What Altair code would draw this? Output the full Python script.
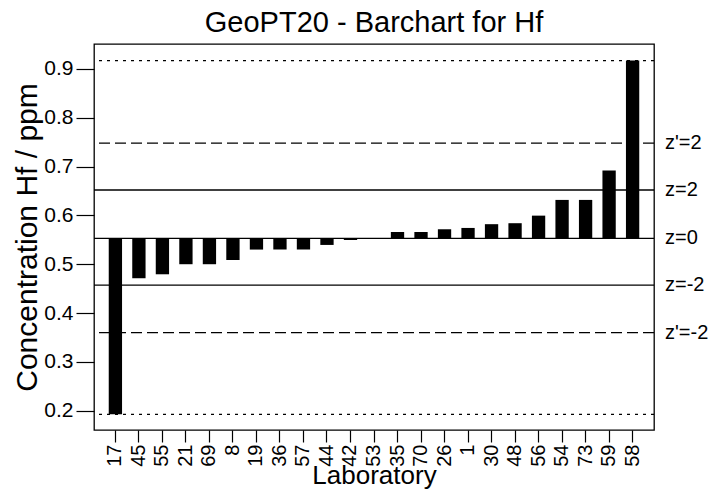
import altair as alt
import pandas as pd

labs = ["17", "45", "55", "21", "69", "8", "19", "36", "57", "44", "42", "53",
        "35", "70", "26", "1", "30", "48", "56", "54", "73", "59", "58"]
values = [0.1926, 0.4713, 0.4794, 0.500, 0.500, 0.5087, 0.530, 0.530, 0.530,
          0.5395, 0.5497, 0.553, 0.566, 0.566, 0.5716, 0.5743, 0.582, 0.584,
          0.5995, 0.6317, 0.6317, 0.6917, 0.917]
assigned = 0.553

solid_levels = [0.652, 0.553, 0.457]
solid_labels = ["z=2", "z=0", "z=-2"]
dashed_levels = [0.748, 0.360]
dashed_labels = ["z'=2", "z'=-2"]
dotted_levels = [0.917, 0.1926]

y_ticks = [0.2, 0.3, 0.4, 0.5, 0.6, 0.7, 0.8, 0.9]
y_domain = [0.1605, 0.951]

FONT = "Liberation Sans"

bars_df = pd.DataFrame({"Laboratory": labs, "value": values,
                        "base": [assigned] * len(labs)})
solid_df = pd.DataFrame({"level": solid_levels, "label": solid_labels})
dashed_df = pd.DataFrame({"level": dashed_levels, "label": dashed_labels})
dotted_df = pd.DataFrame({"level": dotted_levels})

yscale = alt.Scale(domain=y_domain, nice=False, zero=False)

bars = alt.Chart(bars_df).mark_bar(color="black").encode(
    x=alt.X("Laboratory:N", sort=labs,
            scale=alt.Scale(paddingInner=0.434, paddingOuter=0.627),
            axis=alt.Axis(title="Laboratory", labelAngle=-90, tickSize=12,
                          labelPadding=2, labelFontSize=20, titleFontSize=26,
                          titlePadding=-4, domain=False, tickColor="black",
                          tickWidth=1.2, labelColor="black", titleColor="black",
                          titleFontWeight="normal", labelFont=FONT,
                          titleFont=FONT)),
    y=alt.Y("value:Q", scale=yscale,
            axis=alt.Axis(title="Concentration Hf / ppm", values=y_ticks,
                          format=".1f", tickSize=18, labelPadding=3,
                          labelFontSize=21, titleFontSize=30, grid=False,
                          domain=False, tickColor="black", tickWidth=1.2,
                          labelColor="black", titleColor="black",
                          titleFontWeight="normal", titlePadding=1.5,
                          labelFont=FONT, titleFont=FONT)),
    y2="base:Q",
)

solid = alt.Chart(solid_df).mark_rule(color="black", strokeWidth=1.3).encode(
    y=alt.Y("level:Q", scale=yscale))
dashed = alt.Chart(dashed_df).mark_rule(color="black", strokeWidth=1.3,
                                        strokeDash=[11, 5]).encode(
    y=alt.Y("level:Q", scale=yscale))
dotted = alt.Chart(dotted_df).mark_rule(color="black", strokeWidth=1.3,
                                        strokeDash=[3, 5]).encode(
    y=alt.Y("level:Q", scale=yscale))

label_style = dict(align="left", baseline="middle", fontSize=20, font=FONT,
                   color="black", clip=False)
solid_text = alt.Chart(solid_df).mark_text(**label_style).encode(
    x=alt.value(571), y=alt.Y("level:Q", scale=yscale), text="label:N")
dashed_text = alt.Chart(dashed_df).mark_text(**label_style).encode(
    x=alt.value(571), y=alt.Y("level:Q", scale=yscale), text="label:N")

chart = alt.layer(solid, dashed, dotted, bars, solid_text, dashed_text).properties(
    width=560, height=386,
    background="white",
    title=alt.TitleParams("GeoPT20 - Barchart for Hf", fontSize=29, font=FONT,
                          fontWeight="normal", color="black", offset=6,
                          anchor="middle"),
    autosize=alt.AutoSizeParams(type="none"),
    padding={"left": 86, "top": 36, "right": 55, "bottom": 59},
).configure_view(stroke="black", strokeWidth=1.3)

chart.save("out.html", embed_options={"renderer": "svg", "actions": False})
